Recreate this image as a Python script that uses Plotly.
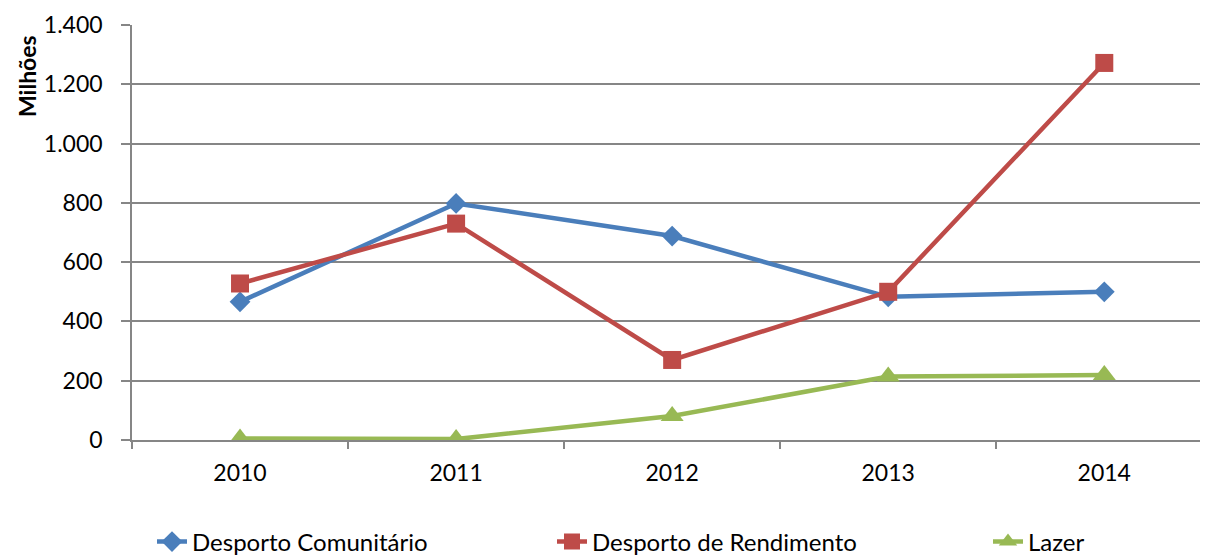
import plotly.graph_objects as go

years = ["2010", "2011", "2012", "2013", "2014"]
comunitario = [466, 798, 688, 483, 500]
rendimento = [528, 730, 270, 500, 1272]
lazer = [5, 3, 81, 214, 219]
y_ticks = [0, 200, 400, 600, 800, 1000, 1200, 1400]

# page has an 8px body margin; figure is sized to fill the rest of the window
OFF = 8
W, H = 1208 - OFF, 559 - OFF
L, R, T, B = 132 - OFF, 0, 25 - OFF, 559 - 440
FONT = "Lato"

series = [
    ("Desporto Comunitário", comunitario, "#4A7EBB", "diamond", 16, "legend", 154),
    ("Desporto de Rendimento", rendimento, "#BE4B48", "square", 18, "legend2", 554),
    ("Lazer", lazer, "#98B954", "triangle-up", 20, "legend3", 990),
]

fig = go.Figure()
for name, vals, col, sym, size, lg, _ in series:
    fig.add_trace(go.Scatter(
        x=years, y=vals, name=name, mode="lines+markers",
        line=dict(color=col, width=4.5),
        marker=dict(symbol=sym, size=size, color=col),
        legend=lg,
    ))

pw = W - L - R
ph = H - T - B
plot_bottom = H - B  # in figure pixels
layout_legends = {}
for name, vals, col, sym, size, lg, px in series:
    layout_legends[lg] = dict(
        x=(px - OFF - L - 2) / pw, y=(plot_bottom - (542 - OFF)) / ph,
        xanchor="left", yanchor="middle",
        orientation="h", bgcolor="rgba(0,0,0,0)",
        font=dict(family=FONT, size=24, color="#000000"),
        itemwidth=30,
    )

fig.update_layout(
    width=W, height=H,
    margin=dict(l=L, r=R, t=T, b=B, autoexpand=False),
    paper_bgcolor="white", plot_bgcolor="white",
    separators=",.",
    font=dict(family=FONT, size=23, color="#000000"),
    showlegend=True,
    **layout_legends,
)

fig.update_xaxes(
    type="category", range=[-0.5, 4.48],
    tickson="boundaries", ticks="outside", ticklen=7, tickcolor="#868686", tickwidth=1.5,
    showgrid=False, showline=True, linecolor="#868686", linewidth=1.5,
    tickfont=dict(family=FONT, size=23, color="#000000"),
    ticklabelstandoff=12,
)
fig.update_yaxes(
    range=[0, 1400], tickvals=y_ticks, tickformat=",d",
    showgrid=True, gridcolor="#868686", gridwidth=1.5,
    ticks="outside", ticklen=9, tickcolor="#868686", tickwidth=1.5,
    showline=True, linecolor="#868686", linewidth=1.5,
    zeroline=False,
    tickfont=dict(family=FONT, size=23, color="#000000"),
    ticklabelstandoff=14,
)

fig.add_annotation(
    text="<b>Milhões</b>", textangle=-90, xref="paper", yref="paper",
    x=(27 - OFF - L) / pw, y=(plot_bottom - (76 - OFF)) / ph,
    xanchor="center", yanchor="middle", showarrow=False,
    font=dict(family=FONT, size=23, color="#000000"),
)

fig.write_html("out.html")
